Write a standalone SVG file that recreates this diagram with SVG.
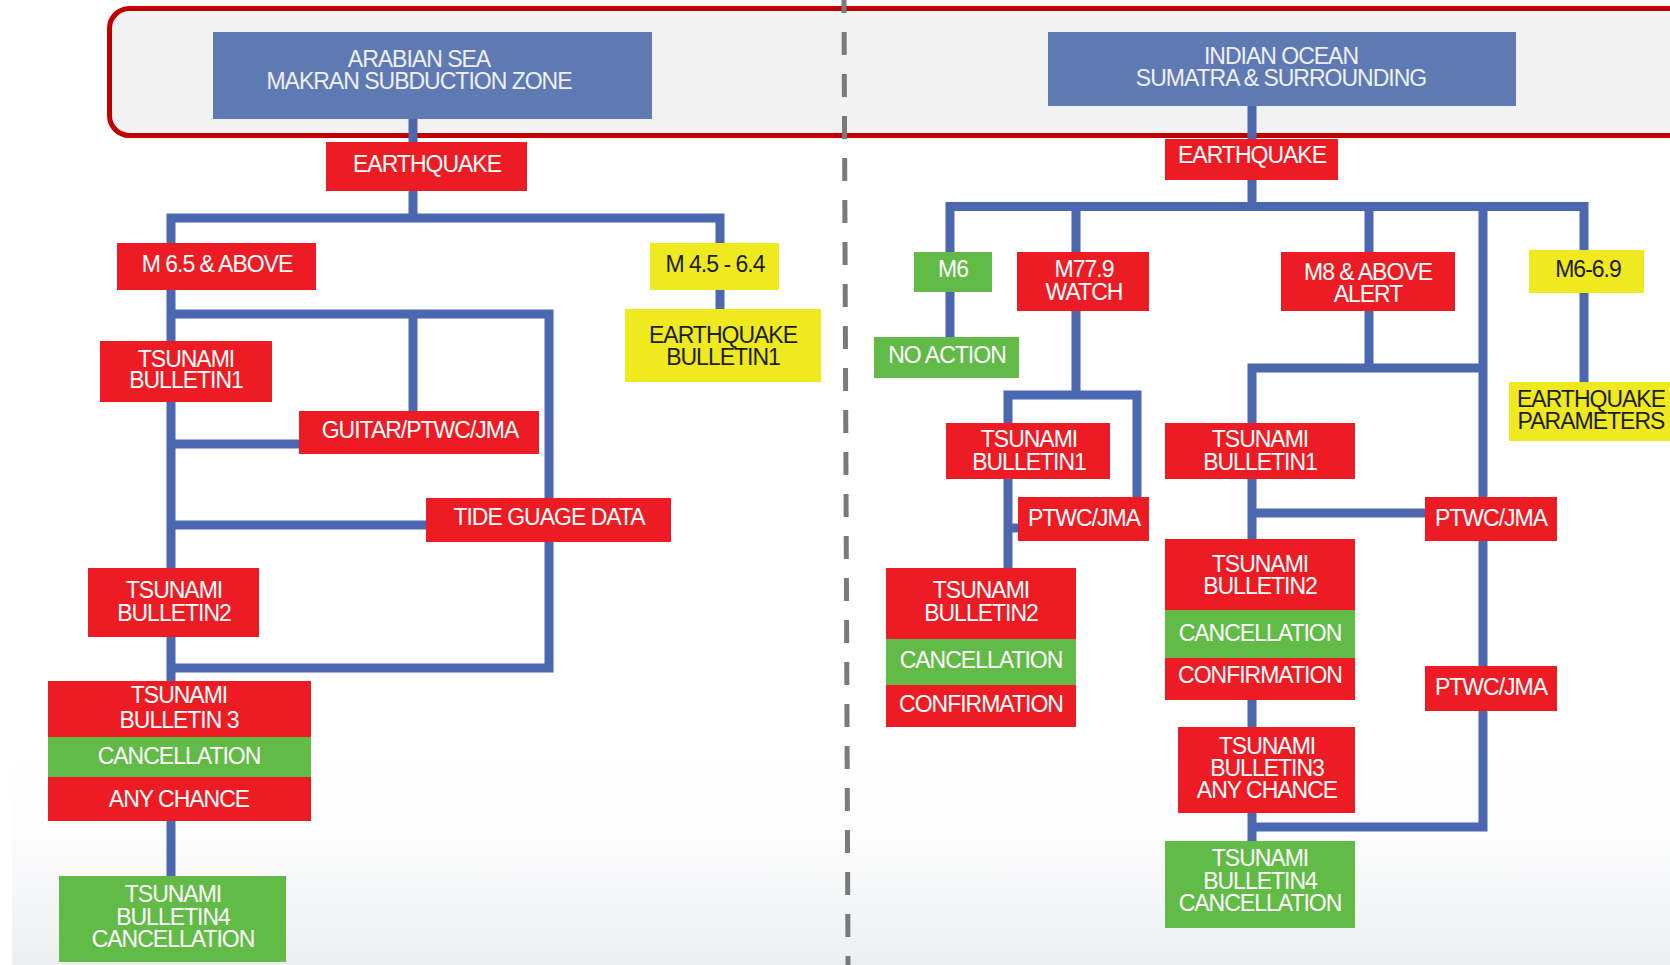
<svg xmlns="http://www.w3.org/2000/svg" width="1670" height="965" viewBox="0 0 1670 965">
<defs>
<linearGradient id="bg" x1="0" y1="0" x2="0" y2="1">
<stop offset="0" stop-color="#ffffff" stop-opacity="0"/>
<stop offset="1" stop-color="#eceef1"/>
</linearGradient>
<style>
.r{fill:#ed1c24}
.g{fill:#62bb46}
.y{fill:#efe91f}
.b{fill:#5f7ab3}
text{font-family:"Liberation Sans",Arial,sans-serif;font-size:23px;letter-spacing:-1px;text-anchor:middle}
.t{fill:#ffffff}
.k{fill:#1e1e1e}
.h{fill:#eef0f6}
.c{fill:none;stroke:#4a67b0;stroke-width:9;stroke-linejoin:miter;stroke-linecap:butt}
</style>
</defs>
<rect x="0" y="0" width="1670" height="965" fill="#ffffff"/>
<rect x="12" y="740" width="1658" height="225" fill="url(#bg)"/>
<rect x="109.5" y="8.5" width="1600" height="127" rx="20" fill="#f2f2f2" stroke="#c00000" stroke-width="5"/>

<g id="connectors">
<path class="c" d="M413,119 V142 M413,191 V218 M171,243 V218 H720 V243 M720,290 V309"/>
<path class="c" d="M171,290 V681 M171,821 V876 M171,314 H549 V668 H171 M413,314 V411 M171,444 H299 M171,525 H426"/>
<path class="c" d="M1252,106 V139 M1252,180 V206.5 M950,252 V206.5 H1584 V250 M1076,206.5 V252 M1369,206.5 V252 M1584,293 V382"/>
<path class="c" d="M950,292 V337 M1076,311 V395 M1008,423 V395 H1137 V497 M1008,479 V568 M1008,528 H1018"/>
<path class="c" d="M1369,311 V368 M1252,423 V368 H1483 M1483,206.5 V497 M1483,541 V666 M1483,711 V827 H1252 M1252,479 V539 M1252,513 H1425 M1252,700 V727 M1252,813 V841"/>
</g>

<g id="hdr-arabian">
<rect class="b" x="213" y="32" width="439" height="87"/>
<text class="h" x="419" y="67">ARABIAN SEA</text>
<text class="h" x="419" y="89">MAKRAN SUBDUCTION ZONE</text>
</g>
<g id="eq-left">
<rect class="r" x="326" y="142" width="201" height="49"/>
<text class="t" x="427" y="172">EARTHQUAKE</text>
</g>
<g id="m65">
<rect class="r" x="117" y="243" width="199" height="47"/>
<text class="t" x="217" y="272">M 6.5 &amp; ABOVE</text>
</g>
<g id="m45">
<rect class="y" x="650" y="243" width="129" height="47"/>
<text class="k" x="715" y="272">M 4.5 - 6.4</text>
</g>
<g id="eq-bulletin1">
<rect class="y" x="625" y="309" width="196" height="73"/>
<text class="k" x="723" y="343">EARTHQUAKE</text>
<text class="k" x="723" y="365">BULLETIN1</text>
</g>
<g id="tb1-left">
<rect class="r" x="100" y="341" width="172" height="61"/>
<text class="t" x="186" y="367">TSUNAMI</text>
<text class="t" x="186" y="388">BULLETIN1</text>
</g>
<g id="guitar">
<rect class="r" x="299" y="411" width="240" height="43"/>
<text class="t" x="420" y="438">GUITAR/PTWC/JMA</text>
</g>
<g id="tide">
<rect class="r" x="426" y="498" width="245" height="44"/>
<text class="t" x="549" y="525">TIDE GUAGE DATA</text>
</g>
<g id="tb2-left">
<rect class="r" x="88" y="568" width="171" height="69"/>
<text class="t" x="174" y="598">TSUNAMI</text>
<text class="t" x="174" y="621">BULLETIN2</text>
</g>
<g id="tb3-left">
<rect class="r" x="48" y="681" width="263" height="56"/>
<rect class="g" x="48" y="737" width="263" height="40"/>
<rect class="r" x="48" y="777" width="263" height="44"/>
<text class="t" x="179" y="703">TSUNAMI</text>
<text class="t" x="179" y="728">BULLETIN 3</text>
<text class="t" x="179" y="764">CANCELLATION</text>
<text class="t" x="179" y="807">ANY CHANCE</text>
</g>
<g id="tb4-left">
<rect class="g" x="59" y="876" width="227" height="86"/>
<text class="t" x="173" y="902">TSUNAMI</text>
<text class="t" x="173" y="925">BULLETIN4</text>
<text class="t" x="173" y="947">CANCELLATION</text>
</g>

<g id="hdr-indian">
<rect class="b" x="1048" y="32" width="468" height="74"/>
<text class="h" x="1281" y="64">INDIAN OCEAN</text>
<text class="h" x="1281" y="86">SUMATRA &amp; SURROUNDING</text>
</g>
<g id="eq-right">
<rect class="r" x="1165" y="139" width="173" height="41"/>
<text class="t" x="1252" y="163">EARTHQUAKE</text>
</g>
<g id="m6">
<rect class="g" x="914" y="252" width="78" height="40"/>
<text class="t" x="953" y="277">M6</text>
</g>
<g id="no-action">
<rect class="g" x="874" y="337" width="145" height="41"/>
<text class="t" x="947" y="363">NO ACTION</text>
</g>
<g id="m779">
<rect class="r" x="1017" y="252" width="132" height="59"/>
<text class="t" x="1084" y="277">M77.9</text>
<text class="t" x="1084" y="300">WATCH</text>
</g>
<g id="m8">
<rect class="r" x="1281" y="252" width="174" height="59"/>
<text class="t" x="1368" y="280">M8 &amp; ABOVE</text>
<text class="t" x="1368" y="302">ALERT</text>
</g>
<g id="m669">
<rect class="y" x="1529" y="250" width="115" height="43"/>
<text class="k" x="1588" y="277">M6-6.9</text>
</g>
<g id="eq-params">
<rect class="y" x="1509" y="382" width="171" height="59"/>
<text class="k" x="1591" y="407">EARTHQUAKE</text>
<text class="k" x="1591" y="429">PARAMETERS</text>
</g>
<g id="tb1-watch">
<rect class="r" x="946" y="423" width="164" height="56"/>
<text class="t" x="1029" y="447">TSUNAMI</text>
<text class="t" x="1029" y="470">BULLETIN1</text>
</g>
<g id="tb1-alert">
<rect class="r" x="1165" y="423" width="190" height="56"/>
<text class="t" x="1260" y="447">TSUNAMI</text>
<text class="t" x="1260" y="470">BULLETIN1</text>
</g>
<g id="ptwc-watch">
<rect class="r" x="1018" y="497" width="131" height="44"/>
<text class="t" x="1084" y="526">PTWC/JMA</text>
</g>
<g id="ptwc-alert1">
<rect class="r" x="1425" y="497" width="132" height="44"/>
<text class="t" x="1491" y="526">PTWC/JMA</text>
</g>
<g id="ptwc-alert2">
<rect class="r" x="1425" y="666" width="132" height="45"/>
<text class="t" x="1491" y="695">PTWC/JMA</text>
</g>
<g id="tb2-watch">
<rect class="r" x="886" y="568" width="190" height="71"/>
<rect class="g" x="886" y="639" width="190" height="46"/>
<rect class="r" x="886" y="685" width="190" height="42"/>
<text class="t" x="981" y="598">TSUNAMI</text>
<text class="t" x="981" y="621">BULLETIN2</text>
<text class="t" x="981" y="668">CANCELLATION</text>
<text class="t" x="981" y="712">CONFIRMATION</text>
</g>
<g id="tb2-alert">
<rect class="r" x="1165" y="539" width="190" height="71"/>
<rect class="g" x="1165" y="610" width="190" height="48"/>
<rect class="r" x="1165" y="658" width="190" height="42"/>
<text class="t" x="1260" y="572">TSUNAMI</text>
<text class="t" x="1260" y="594">BULLETIN2</text>
<text class="t" x="1260" y="641">CANCELLATION</text>
<text class="t" x="1260" y="683">CONFIRMATION</text>
</g>
<g id="tb3-alert">
<rect class="r" x="1178" y="727" width="177" height="86"/>
<text class="t" x="1267" y="754">TSUNAMI</text>
<text class="t" x="1267" y="776">BULLETIN3</text>
<text class="t" x="1267" y="798">ANY CHANCE</text>
</g>
<g id="tb4-alert">
<rect class="g" x="1165" y="841" width="190" height="87"/>
<text class="t" x="1260" y="866">TSUNAMI</text>
<text class="t" x="1260" y="889">BULLETIN4</text>
<text class="t" x="1260" y="911">CANCELLATION</text>
</g>

<line x1="844" y1="0" x2="848" y2="965" stroke="#7a7a7a" stroke-width="5" stroke-dasharray="23 19" stroke-dashoffset="10"/>
</svg>
